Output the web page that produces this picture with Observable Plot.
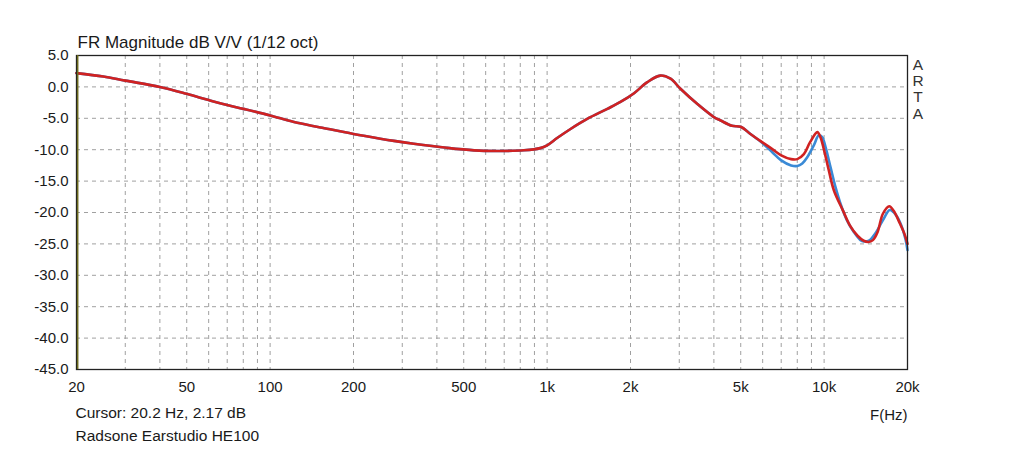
<!DOCTYPE html>
<html>
<head>
<meta charset="utf-8">
<script src="https://cdn.jsdelivr.net/npm/d3@7"></script>
<script src="https://cdn.jsdelivr.net/npm/@observablehq/plot@0.6"></script>
<style>
  html, body { margin: 0; padding: 0; background: #fff; }
  #chart { width: 1021px; height: 461px; }
</style>
</head>
<body>
<div id="chart"></div>
<script>
// ---- Data ----
const titleText = "FR Magnitude dB V/V (1/12 oct)";
const cursorText = "Cursor: 20.2 Hz, 2.17 dB";
const deviceText = "Radsone Earstudio HE100";
const xAxisText = "F(Hz)";
const brandText = "A\nR\nT\nA";
const cursorHz = 20.2;

const xTicks = [20, 50, 100, 200, 500, 1000, 2000, 5000, 10000, 20000];
const xTickLabels = ["20", "50", "100", "200", "500", "1k", "2k", "5k", "10k", "20k"];
const yTicks = [5, 0, -5, -10, -15, -20, -25, -30, -35, -40, -45];
const gridFreqs = [30, 40, 50, 60, 70, 80, 90, 100, 200, 300, 400, 500, 600, 700, 800, 900,
                   1000, 2000, 3000, 4000, 5000, 6000, 7000, 8000, 9000, 10000];
const gridDb = [0, -5, -10, -15, -20, -25, -30, -35, -40];

// shared low/mid-frequency part (both traces overlap here)
const lowFreq = [20, 25, 30, 40, 50, 60, 70, 80, 100, 122, 152, 200, 250, 280, 330, 435, 545, 660,
                 825, 945, 1000, 1090, 1215, 1395, 1650, 1840, 2060, 2300, 2560, 2790, 3030, 3480,
                 4000, 4230, 4650, 5000, 5420];
const lowDb = [2.2, 1.65, 1.0, 0.0, -1.1, -2.1, -2.9, -3.5, -4.55, -5.6, -6.45, -7.5, -8.25, -8.6, -9.05,
               -9.7, -10.1, -10.2, -10.1, -9.75, -9.3, -8.1, -6.7, -5.1, -3.5, -2.4, -1.0, 0.75, 1.8,
               1.3, -0.3, -2.7, -4.8, -5.35, -6.2, -6.35, -7.5];

// high-frequency part, red trace
const redHiFreq = [5970, 6500, 7000, 7600, 8000, 8450, 8900, 9450, 9700, 10000, 10400, 10850, 11700,
                   12400, 13200, 13900, 14450, 15000, 15600, 16300, 17200, 17800, 18800, 19500, 20000];
const redHiDb = [-8.8, -9.9, -10.9, -11.5, -11.5, -10.7, -8.8, -7.2, -8.0, -10.1, -13.3, -16.5, -19.7,
                 -22.1, -23.7, -24.5, -24.7, -24.4, -23.1, -20.2, -19.0, -19.7, -21.8, -23.4, -25.0];

// high-frequency part, blue trace
const blueHiFreq = [5970, 6500, 7000, 7600, 8000, 8340, 8690, 9180, 9570, 9840, 10120, 10550, 11000,
                    11460, 12110, 12800, 13530, 13900, 14500, 15320, 16410, 17260, 18100, 18890, 19680, 20000];
const blueHiDb = [-8.9, -10.4, -11.7, -12.5, -12.6, -12.2, -11.2, -9.3, -7.7, -8.0, -9.6, -12.8, -16.0,
                  -18.6, -21.3, -23.1, -24.4, -24.6, -24.5, -23.3, -21.0, -19.6, -20.3, -21.8, -24.3, -26.0];

// ---- Build tables ----
const toRows = (fs, ds) => fs.map((f, i) => ({f, db: ds[i]}));
const redRows = toRows(lowFreq, lowDb).concat(toRows(redHiFreq, redHiDb));
const blueRows = toRows(lowFreq, lowDb).concat(toRows(blueHiFreq, blueHiDb));
const xTickRows = xTicks.map((f, i) => ({f, label: xTickLabels[i]}));

const FONT = "'Liberation Sans', Arial, Helvetica, sans-serif";

const chart = Plot.plot({
  width: 1021,
  height: 461,
  marginLeft: 76,
  marginRight: 114,
  marginTop: 55,
  marginBottom: 92,
  style: {fontFamily: FONT, fontSize: "15px", color: "#1a1a1a", background: "#fff", overflow: "visible"},
  x: {type: "log", domain: [20, 20000], axis: null},
  y: {domain: [-45, 5]},
  marks: [
    Plot.ruleX(gridFreqs, {stroke: "#a0a0a0", strokeWidth: 1, strokeDasharray: "4,4"}),
    Plot.ruleY(gridDb, {stroke: "#a0a0a0", strokeWidth: 1, strokeDasharray: "4,4"}),
    Plot.line(blueRows, {x: "f", y: "db", stroke: "#3a8ad6", strokeWidth: 2.6, curve: "catmull-rom"}),
    Plot.line(redRows, {x: "f", y: "db", stroke: "#d02222", strokeWidth: 2.6, curve: "catmull-rom"}),
    Plot.frame({stroke: "#222", strokeWidth: 1.3}),
    Plot.ruleX([cursorHz], {stroke: "#6b6a1e", strokeWidth: 1.5}),
    Plot.axisY({ticks: yTicks, tickFormat: d => d.toFixed(1), tickSize: 0, tickPadding: 8,
                fontSize: 15, label: null}),
    Plot.text(xTickRows, {x: "f", text: "label", frameAnchor: "bottom", lineAnchor: "middle",
                          dy: 18, fontSize: 15, fill: "#1a1a1a"}),
    Plot.text([titleText], {frameAnchor: "top-left", text: d => d, textAnchor: "start",
                            lineAnchor: "middle", dx: 1, dy: -12.5, fontSize: 17, fill: "#1a1a1a"}),
    Plot.text([cursorText], {frameAnchor: "bottom-left", text: d => d, textAnchor: "start",
                             lineAnchor: "middle", dx: -1, dy: 44, fontSize: 15.5, fill: "#1a1a1a"}),
    Plot.text([deviceText], {frameAnchor: "bottom-left", text: d => d, textAnchor: "start",
                             lineAnchor: "middle", dx: -1, dy: 67, fontSize: 15.5, fill: "#1a1a1a"}),
    Plot.text([xAxisText], {frameAnchor: "bottom-right", text: d => d, textAnchor: "end",
                            lineAnchor: "middle", dx: 0, dy: 46, fontSize: 15, fill: "#1a1a1a"}),
    Plot.text([brandText], {frameAnchor: "top-right", text: d => d, textAnchor: "middle",
                            lineAnchor: "middle", dx: 10.5, dy: 33.5, fontSize: 15.5, lineHeight: 1.06,
                            fill: "#333"})
  ]
});
document.getElementById("chart").appendChild(chart);
</script>
</body>
</html>
